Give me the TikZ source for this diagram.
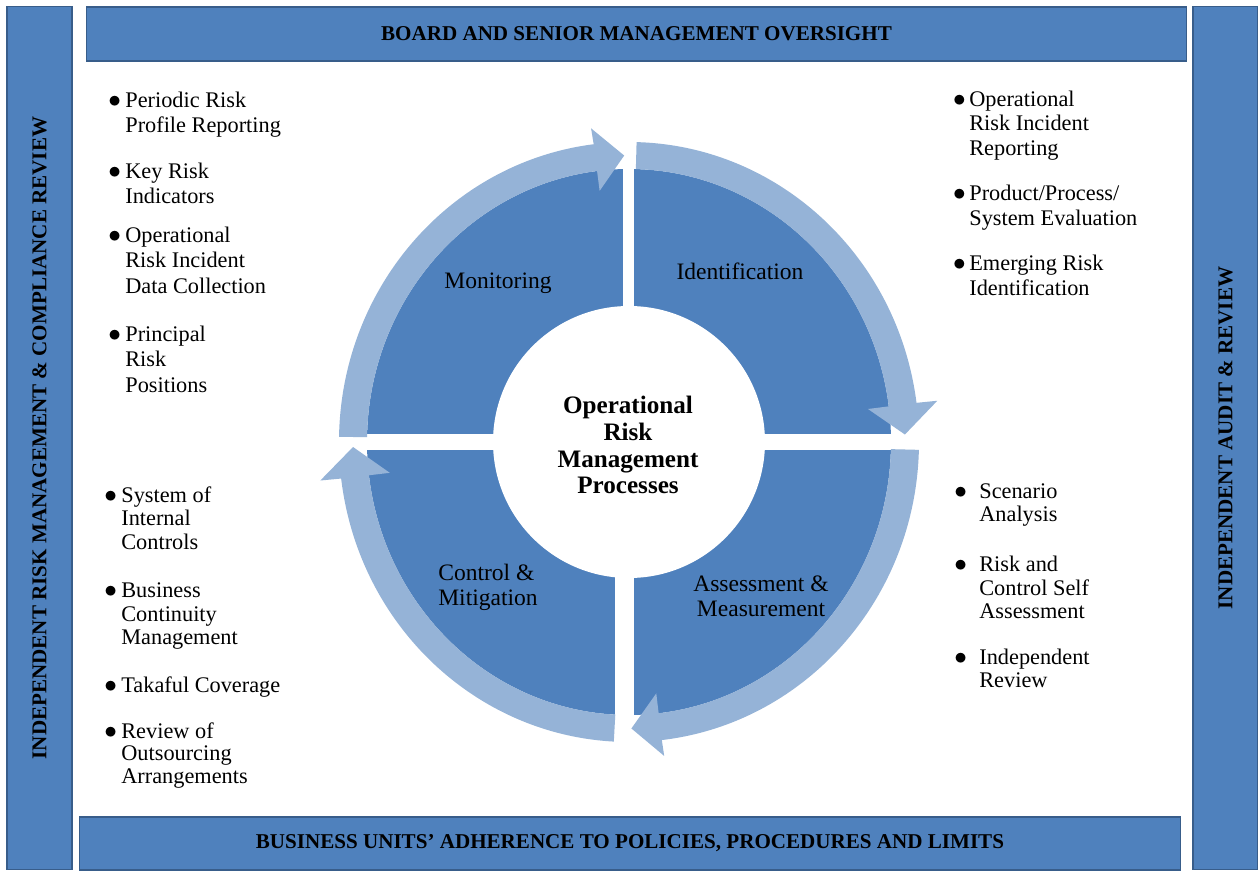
\documentclass[tikz,border=0pt]{standalone}
\usepackage{fontspec}
\setmainfont{Liberation Serif}
\usetikzlibrary{positioning}
\definecolor{barblue}{HTML}{4F81BD}
\definecolor{barline}{HTML}{385D8A}
\definecolor{ringblue}{HTML}{95B3D7}
\newcommand{\bul}[1][2.5pt]{\strut\llap{{\fontsize{15}{15}\selectfont$\bullet$}\hspace{#1}}}

\begin{document}
\begin{tikzpicture}[x=0.02cm,y=0.02cm,
        bar/.style={draw=barline,fill=barblue,line width=0.6pt,inner sep=0pt,font=\fontsize{12}{14}\selectfont\bfseries},
        item/.style={anchor=north west,inner sep=0pt,align=left,font=\fontsize{12.7}{14.5}\selectfont},
        itemr/.style={item,font=\fontsize{12.7}{13.9}\selectfont},
        itemb/.style={item,font=\fontsize{12.7}{13.4}\selectfont},
        phase/.style={align=center,inner sep=0pt,font=\fontsize{13.4}{14.2}\selectfont}]
   \useasboundingbox (0,0) rectangle (1258,870);
   \node (board) [bar,minimum width=22.02cm,minimum height=1.08cm] at (636.5,836) {BOARD AND SENIOR MANAGEMENT OVERSIGHT};
   \node (units) [bar,minimum width=22.04cm,minimum height=1.06cm] at (630,26.5) {BUSINESS UNITS' ADHERENCE TO POLICIES, PROCEDURES AND LIMITS};
   \node (irm) [bar,rotate=90,minimum width=17.28cm,minimum height=1.3cm] at (39.5,432) {INDEPENDENT RISK MANAGEMENT \& COMPLIANCE REVIEW};
   \node (audit) [bar,rotate=90,minimum width=17.28cm,minimum height=1.3cm] at (1225.5,432) {INDEPENDENT AUDIT \& REVIEW};
   \fill[barblue] (629,428) ellipse [x radius=262,y radius=273];
   \fill[white] (629,428) circle [radius=136];
   \fill[white] (623,428) rectangle (634,720);
   \fill[white] (615,135) rectangle (634,428);
   \fill[white] (330,420) rectangle (930,436);
   \begin{scope}[shift={(629,428)}]
   \foreach \s/\b/\t in {179/97/91, 88.5/7.5/1.5, -1.5/-83.5/-89.5, 267/187/181}
      \fill[ringblue] (\s:290 and 300) arc [start angle=\s,end angle=\b,x radius=290,y radius=300]
         -- (\b:311 and 316) -- (\t:276 and 286.5) -- (\b:241 and 253)
         -- (\b:262 and 273) arc [start angle=\b,end angle=\s,x radius=262,y radius=273] -- cycle;
   \end{scope}
   \node (orm) [align=center,inner sep=0pt,font=\fontsize{14.3}{15.3}\selectfont\bfseries] at (628,425) {Operational\\Risk\\Management\\Processes};
   \node (mon) [phase] at (498,587) {Monitoring};
   \node (ident) [phase] at (740,599) {Identification};
   \node (ctrl) [phase,align=left] at (488,283) {Control \&\\Mitigation};
   \node (assess) [phase] at (761,274) {Assessment \&\\Measurement};
   \node (mon1) [item] at (125,781) {\bul Periodic Risk\\Profile Reporting\strut};
   \node (mon2) [below=0.39cm of mon1.south west,item] {\bul Key Risk\\Indicators\strut};
   \node (mon3) [below=0.25cm of mon2.south west,item] {\bul Operational\\Risk Incident\\Data Collection\strut};
   \node (mon4) [below=0.43cm of mon3.south west,item] {\bul Principal\\Risk\\Positions\strut};
   \node (id1) [itemr] at (969,781) {\bul[2pt]Operational\\Risk Incident\\Reporting\strut};
   \node (id2) [below=0.41cm of id1.south west,itemr] {\bul[2pt]Product/Process/\\System Evaluation\strut};
   \node (id3) [below=0.41cm of id2.south west,itemr] {\bul[2pt]Emerging Risk\\Identification\strut};
   \node (as1) [itemb] at (979,388.5) {\bul[7pt]Scenario\\Analysis\strut};
   \node (as2) [below=0.51cm of as1.south west,itemb] {\bul[7pt]Risk and\\Control Self\\Assessment\strut};
   \node (as3) [below=0.43cm of as2.south west,itemb] {\bul[7pt]Independent\\Review\strut};
   \node (ct1) [itemb] at (121,384.5) {\bul System of\\Internal\\Controls\strut};
   \node (ct2) [below=0.48cm of ct1.south west,itemb] {\bul Business\\Continuity\\Management\strut};
   \node (ct3) [below=0.48cm of ct2.south west,itemb] {\bul Takaful Coverage\strut};
   \node (ct4) [below=0.44cm of ct3.south west,itemb,font=\fontsize{12.7}{12.8}\selectfont] {\bul Review of\\Outsourcing\\Arrangements\strut};
\end{tikzpicture}
\end{document}
